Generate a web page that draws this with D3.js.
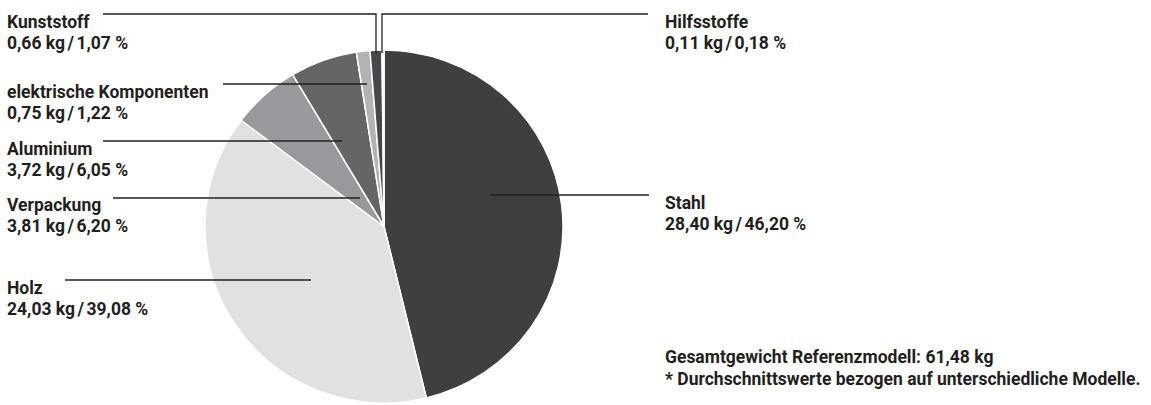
<!DOCTYPE html>
<html lang="de">
<head>
<meta charset="utf-8">
<script src="https://cdn.jsdelivr.net/npm/d3@7"></script>
<style>
  html, body { margin: 0; padding: 0; background: #fff; }
  svg { display: block; }
  text {
    font-family: Roboto, "Liberation Sans", sans-serif;
    font-weight: bold;
    font-size: 17.5px;
    fill: #231f20;
  }
</style>
</head>
<body>
<svg id="chart" width="1151" height="405"></svg>
<script>
// Material composition of the reference model, clockwise from 12 o'clock
const categories = ["Stahl", "Holz", "Verpackung", "Aluminium", "elektrische Komponenten", "Kunststoff", "Hilfsstoffe"];
const weightsKg  = ["28,40", "24,03", "3,81", "3,72", "0,75", "0,66", "0,11"];
const shares     = [46.20, 39.08, 6.20, 6.05, 1.22, 1.07, 0.18];
const fills      = ["#3f3f3f", "#e0e1e3", "#98999c", "#646567", "#b2b3b5", "#47484b", "#ffffff"];
const totalLine  = "Gesamtgewicht Referenzmodell: 61,48 kg";
const footnote   = "* Durchschnittswerte bezogen auf unterschiedliche Modelle.";

const fmtPct = d3.format(".2f");
const pctText = v => fmtPct(v).replace(".", ",");

// Label placement: text anchor (left x, first baseline), leader line y and its x range
const labelLayout = {
  "Kunststoff":              { tx: 7,   ty: 28,  ly: 14,  x1: 103, x2: 376, drop: true },
  "Hilfsstoffe":             { tx: 665, ty: 28,  ly: 14,  x1: 648, x2: 382, drop: true },
  "elektrische Komponenten": { tx: 7,   ty: 98,  ly: 84,  x1: 223, x2: 367 },
  "Aluminium":               { tx: 7,   ty: 155, ly: 141, x1: 103, x2: 342 },
  "Verpackung":              { tx: 7,   ty: 211, ly: 198, x1: 113, x2: 360 },
  "Holz":                    { tx: 7,   ty: 294, ly: 280, x1: 65,  x2: 311 },
  "Stahl":                   { tx: 665, ty: 209, ly: 195, x1: 490, x2: 649 }
};

const svg = d3.select("#chart");
const cx = 384, cy = 226.5, radius = 179, squash = 0.986;

const pie = d3.pie().sort(null).value(d => d.share);
const arc = d3.arc().innerRadius(0).outerRadius(radius);

const rows = categories.map((c, i) => ({ name: c, kg: weightsKg[i], share: shares[i], fill: fills[i] }));
const arcs = pie(rows);

const pieG = svg.append("g")
  .attr("transform", `translate(${cx},${cy}) scale(1,${squash})`);

pieG.selectAll("path")
  .data(arcs)
  .join("path")
  .attr("d", arc)
  .attr("fill", d => d.data.fill)
  .attr("stroke", "#ffffff")
  .attr("stroke-width", 1.5)
  .attr("stroke-linejoin", "round");

// Leader lines
const lineG = svg.append("g")
  .attr("stroke", "#231f20")
  .attr("stroke-width", 1.3)
  .attr("fill", "none");

arcs.forEach(a => {
  const L = labelLayout[a.data.name];
  if (L.drop) {
    // horizontal run, then straight down into the thin slice at its mid angle
    const mid = (a.startAngle + a.endAngle) / 2;
    const yArc = cy - radius * squash * Math.cos(mid) + 3;
    lineG.append("path")
      .attr("d", `M${L.x1},${L.ly}H${L.x2}V${yArc}`);
  } else {
    lineG.append("line")
      .attr("x1", L.x1).attr("x2", L.x2)
      .attr("y1", L.ly).attr("y2", L.ly);
  }
});

// Labels: name, then "kg / %" with a narrow gap around the slash
const labelG = svg.append("g");
arcs.forEach(a => {
  const L = labelLayout[a.data.name];
  const t = labelG.append("text").attr("x", L.tx).attr("y", L.ty);
  t.append("tspan").attr("x", L.tx).text(a.data.name);
  t.append("tspan").attr("x", L.tx).attr("dy", 21).text(`${a.data.kg} kg`);
  t.append("tspan").attr("dx", 2.5).text("/");
  t.append("tspan").attr("dx", 2.5).text(`${pctText(a.data.share)} %`);
});

// Total and footnote
svg.append("text").attr("x", 665).attr("y", 363).text(totalLine);
svg.append("text").attr("x", 665).attr("y", 385).text(footnote);
</script>
</body>
</html>
